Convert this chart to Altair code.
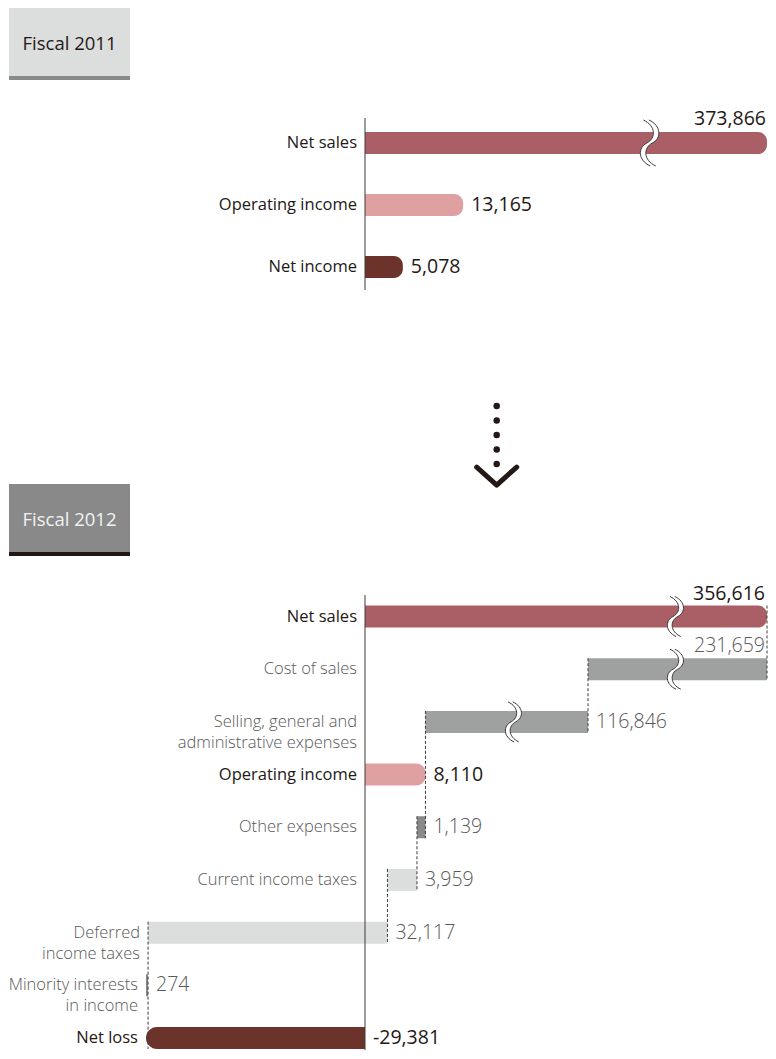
import altair as alt
import pandas as pd

# ---------------- data ----------------
headers = ["Fiscal 2011", "Fiscal 2012"]

top_categories = ["Net sales", "Operating income", "Net income"]
top_values = [373866, 13165, 5078]
top_colors = ["#aa5f66", "#dfa0a2", "#6b3329"]

bottom_categories = [
    "Net sales",
    "Cost of sales",
    "Selling, general and\nadministrative expenses",
    "Operating income",
    "Other expenses",
    "Current income taxes",
    "Deferred\nincome taxes",
    "Minority interests\nin income",
    "Net loss",
]
bottom_values = [356616, -231659, -116846, 8110, -1139, -3959, -32117, -274, -29381]
bottom_is_total = [True, False, False, True, False, False, False, False, True]
bottom_colors = ["#aa5f66", "#9fa0a0", "#9fa0a0", "#dfa0a2", "#898989",
                 "#dcdddd", "#dcdddd", "#898989", "#6b3329"]

# ---------------- styling / layout ----------------
DARK = "#231815"
GRAY_TXT = "#595757"
LINE = "#3e3a39"
FONT = "Open Sans"
W, H = 760, 1042
AX = 357            # pixel position of the zero line
PX = 0.007454       # pixels per unit in the unbroken part
RIGHT = 759
BAR_H = 11          # half bar height

# top section: broken scale beyond 20,000
top_x = alt.Scale(domain=[0, 20000, 373866],
                  range=[AX, AX + 20000 * PX, RIGHT], nice=False, zero=False)
top_y = alt.Scale(domain=[0, 2], range=[135, 259], nice=False, zero=False)

bot_x = alt.Scale(domain=[-29381, 8111, 124957, 356616],
                  range=[AX - 29381 * PX, AX + 8111 * PX, 580, RIGHT], nice=False, zero=False)
bot_y = alt.Scale(domain=[0, 8], range=[608.5, 1030], nice=False, zero=False)

BREAK_FILL = ("M-0.2,-1 C0.35,-0.75 0.35,-0.2 -0.05,0 C-0.45,0.2 -0.45,0.75 0.1,1 "
              "L0.34,1 C-0.21,0.75 -0.21,0.2 0.19,0 C0.59,-0.2 0.59,-0.75 0.04,-1 Z")
BREAK_LINE = ("M-0.2,-1 C0.35,-0.75 0.35,-0.2 -0.05,0 C-0.45,0.2 -0.45,0.75 0.1,1 "
              "M0.04,-1 C0.59,-0.75 0.59,-0.2 0.19,0 C-0.21,0.2 -0.21,0.75 0.34,1")

# ---------------- tables ----------------
top_df = pd.DataFrame({
    "row": list(range(len(top_categories))),
    "category": top_categories,
    "value": top_values,
    "color": top_colors,
})
top_df["lo"] = 0
top_df["hi"] = top_df["value"]
top_df["text"] = top_df["value"].map(lambda v: f"{v:,}")
top_df["above"] = top_df["hi"] > 20000

los, his, texts = [], [], []
running = 0
for v, tot in zip(bottom_values, bottom_is_total):
    if tot:
        lo, hi = min(0, v), max(0, v)
        running = v
        texts.append(f"{v:,}")
    else:
        lo, hi = running + v, running
        running = running + v
        texts.append(f"{abs(v):,}")
    los.append(lo)
    his.append(hi)

bot_df = pd.DataFrame({
    "row": list(range(len(bottom_categories))),
    "category": bottom_categories,
    "value": bottom_values,
    "total": bottom_is_total,
    "color": bottom_colors,
    "lo": los,
    "hi": his,
    "text": texts,
})
bot_df["labx"] = bot_df["lo"].clip(upper=0)
bot_df["above"] = bot_df["hi"] > 200000

# connectors of the waterfall: value, from row, to row
conn_df = pd.DataFrame({
    "v": [his[0], los[1], los[2], los[4], los[5], los[6]],
    "r0": [0, 1, 2, 4, 5, 6],
    "r1": [1, 2, 4, 5, 6, 8],
})


def X(field, sc):
    return alt.X(field, type="quantitative", scale=sc, axis=None)


def Y(field, sc):
    return alt.Y(field, type="quantitative", scale=sc, axis=None)


# ---------------- top section ----------------
t_base = alt.Chart(top_df)
t_bars = t_base.mark_rect(cornerRadiusTopRight=9, cornerRadiusBottomRight=9,
                          yOffset=-BAR_H, y2Offset=BAR_H).encode(
    x=X("lo", top_x), x2="hi", y=Y("row", top_y), y2="row",
    color=alt.Color("color:N", scale=None))
t_axis = alt.Chart(pd.DataFrame({"z": [0]})).mark_rule(color=LINE, strokeWidth=1).encode(
    x=X("z", top_x), y=alt.value(110), y2=alt.value(282))
t_break_f = t_base.transform_filter("datum.above").mark_point(
    shape=BREAK_FILL, filled=True, color="white", opacity=1, size=2116, strokeWidth=0).encode(
    x=alt.value(640), y=Y("row", top_y))
t_break_l = t_base.transform_filter("datum.above").mark_point(
    shape=BREAK_LINE, filled=False, color=LINE, opacity=1, size=2116, strokeWidth=1).encode(
    x=alt.value(640), y=Y("row", top_y))
t_cat = t_base.mark_text(align="right", baseline="middle", font=FONT, fontSize=16.5,
                         color=DARK).encode(x=alt.value(AX - 8), y=Y("row", top_y), text="category:N")
t_val_side = t_base.transform_filter("!datum.above").mark_text(
    align="left", baseline="middle", dx=8, font=FONT, fontSize=19.5, color=DARK).encode(
    x=X("hi", top_x), y=Y("row", top_y), text="text:N")
t_val_above = t_base.transform_filter("datum.above").mark_text(
    align="right", baseline="alphabetic", dy=-18, dx=-1, font=FONT, fontSize=19.5, color=DARK).encode(
    x=X("hi", top_x), y=Y("row", top_y), text="text:N")

top_layer = alt.layer(t_bars, t_axis, t_break_f, t_break_l, t_cat, t_val_side, t_val_above)

# ---------------- bottom section ----------------
b_base = alt.Chart(bot_df)
b_bar_pos = b_base.transform_filter("datum.total && datum.value > 0").mark_rect(
    cornerRadiusTopRight=9, cornerRadiusBottomRight=9, yOffset=-BAR_H, y2Offset=BAR_H).encode(
    x=X("lo", bot_x), x2="hi", y=Y("row", bot_y), y2="row", color=alt.Color("color:N", scale=None))
b_bar_neg = b_base.transform_filter("datum.total && datum.value < 0").mark_rect(
    cornerRadiusTopLeft=11, cornerRadiusBottomLeft=11, yOffset=-BAR_H, y2Offset=BAR_H).encode(
    x=X("lo", bot_x), x2="hi", y=Y("row", bot_y), y2="row", color=alt.Color("color:N", scale=None))
b_bar_chg = b_base.transform_filter("!datum.total").mark_rect(
    yOffset=-BAR_H, y2Offset=BAR_H).encode(
    x=X("lo", bot_x), x2="hi", y=Y("row", bot_y), y2="row", color=alt.Color("color:N", scale=None))
b_conn = alt.Chart(conn_df).mark_rule(color=LINE, strokeWidth=1, strokeDash=[3, 2],
                                      yOffset=-BAR_H, y2Offset=BAR_H).encode(
    x=X("v", bot_x), y=Y("r0", bot_y), y2="r1")
b_axis = alt.Chart(pd.DataFrame({"z": [0]})).mark_rule(color=LINE, strokeWidth=1).encode(
    x=X("z", bot_x), y=alt.value(587), y2=alt.value(H))
b_break_f1 = b_base.transform_filter("datum.above").mark_point(
    shape=BREAK_FILL, filled=True, color="white", opacity=1, size=1600, strokeWidth=0).encode(
    x=alt.value(666), y=Y("row", bot_y))
b_break_l1 = b_base.transform_filter("datum.above").mark_point(
    shape=BREAK_LINE, filled=False, color=LINE, opacity=1, size=1600, strokeWidth=1).encode(
    x=alt.value(666), y=Y("row", bot_y))
b_break_f2 = b_base.transform_filter("datum.row == 2").mark_point(
    shape=BREAK_FILL, filled=True, color="white", opacity=1, size=1600, strokeWidth=0).encode(
    x=alt.value(504), y=Y("row", bot_y))
b_break_l2 = b_base.transform_filter("datum.row == 2").mark_point(
    shape=BREAK_LINE, filled=False, color=LINE, opacity=1, size=1600, strokeWidth=1).encode(
    x=alt.value(504), y=Y("row", bot_y))


def cat_text(flt, color, weight):
    return b_base.transform_filter(flt).mark_text(
        align="right", baseline="middle", dx=-8, font=FONT, fontSize=16.5, color=color,
        fontWeight=weight, lineBreak="\n", lineHeight=21).encode(
        x=X("labx", bot_x), y=Y("row", bot_y), text="category:N")


def val_text(flt, color, weight, above):
    if above:
        mk = dict(align="right", baseline="alphabetic", dy=-17, dx=-2)
    else:
        mk = dict(align="left", baseline="middle", dx=8)
    return b_base.transform_filter(flt).mark_text(
        font=FONT, fontSize=19.5, color=color, fontWeight=weight, **mk).encode(
        x=X("hi", bot_x), y=Y("row", bot_y), text="text:N")


b_cat_tot = cat_text("datum.total", DARK, 400)
b_cat_chg = cat_text("!datum.total", GRAY_TXT, 300)
b_val1 = val_text("datum.total && datum.above", DARK, 400, True)
b_val2 = val_text("!datum.total && datum.above", GRAY_TXT, 300, True)
b_val3 = val_text("datum.total && !datum.above", DARK, 400, False)
b_val4 = val_text("!datum.total && !datum.above", GRAY_TXT, 300, False)

bottom_layer = alt.layer(b_bar_pos, b_bar_neg, b_bar_chg, b_conn, b_axis,
                         b_break_f1, b_break_l1, b_break_f2, b_break_l2,
                         b_cat_tot, b_cat_chg, b_val1, b_val2, b_val3, b_val4)

# ---------------- headers and arrow ----------------
one = pd.DataFrame({"a": [0]})


def header(text, y0, fill, border, tcolor):
    box = alt.Chart(one).mark_rect(color=fill).encode(
        x=alt.value(1), x2=alt.value(122), y=alt.value(y0), y2=alt.value(y0 + 68))
    bar = alt.Chart(one).mark_rect(color=border).encode(
        x=alt.value(1), x2=alt.value(122), y=alt.value(y0 + 68), y2=alt.value(y0 + 72))
    txt = alt.Chart(one).mark_text(text=text, font=FONT, fontSize=18.5, color=tcolor,
                                   align="center", baseline="middle").encode(
        x=alt.value(61.5), y=alt.value(y0 + 36))
    return [box, bar, txt]


h1 = header(headers[0], 0, "#dcdddd", "#898989", DARK)
h2 = header(headers[1], 476, "#898989", DARK, "#f2f2f2")

dots = alt.Chart(pd.DataFrame({"i": list(range(5))})).mark_circle(
    size=42, color=DARK, opacity=1).encode(
    x=alt.value(488.7),
    y=alt.Y("i:Q", scale=alt.Scale(domain=[0, 4], range=[398, 456], nice=False, zero=False), axis=None))
chevron = alt.Chart(one).mark_point(
    shape="M-1,-0.42 L0,0.48 L1,-0.42", filled=False, color=DARK, opacity=1,
    size=1600, strokeWidth=5, strokeCap="round", strokeJoin="round").encode(
    x=alt.value(488.7), y=alt.value(467.5))

chart = alt.layer(*h1, *h2, dots, chevron, top_layer, bottom_layer).resolve_scale(
    x="independent", y="independent"
).properties(
    width=W, height=H, padding=0, autosize="none"
).configure_view(stroke=None)

chart.save("out.html", embed_options={"renderer": "svg", "actions": False})
